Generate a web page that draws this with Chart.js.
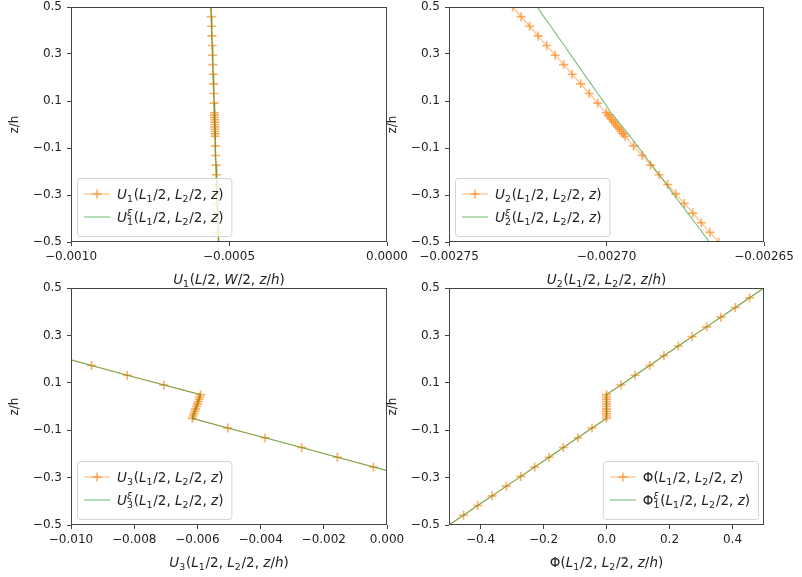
<!DOCTYPE html>
<html lang="en">
<head>
<meta charset="UTF-8">
<title>Through-thickness profiles</title>
<script src="https://cdn.jsdelivr.net/npm/chart.js"></script>
<style>
  body { margin: 0; background: #fff; }
  #fig { position: relative; width: 802px; height: 577px; overflow: hidden; background: #fff; }
  #fig canvas { position: absolute; }
</style>
</head>
<body>
<div id="fig">
  <canvas id="c1"></canvas>
  <canvas id="c2"></canvas>
  <canvas id="c3"></canvas>
  <canvas id="c4"></canvas>
</div>
<script>
// z/h nodes, top to bottom (dense core layer between -0.05 and 0.05)
const zNodes = [0.5, 0.459, 0.418, 0.377, 0.336, 0.295, 0.255, 0.214, 0.173, 0.132, 0.091, 0.05,
  0.04, 0.03, 0.02, 0.01, 0, -0.01, -0.02, -0.03, -0.04, -0.05,
  -0.091, -0.132, -0.173, -0.214, -0.255, -0.295, -0.336, -0.377, -0.418, -0.459, -0.5];

const u1Fem = [-0.000557, -0.000556, -0.000555, -0.000554, -0.000553, -0.000552, -0.000551, -0.000550, -0.000549, -0.000548, -0.000547, -0.000546,
  -0.000546, -0.000546, -0.000545, -0.000545, -0.000545, -0.000545, -0.000545, -0.000544, -0.000544, -0.000544,
  -0.000543, -0.000542, -0.000541, -0.000540, -0.000539, -0.000538, -0.000537, -0.000536, -0.000535, -0.000534, -0.000533];
const u1Exact = [-0.000557, -0.000556, -0.000555, -0.000554, -0.000553, -0.000552, -0.000551, -0.000550, -0.000549, -0.000548, -0.000547, -0.000546,
  -0.000546, -0.000546, -0.000545, -0.000545, -0.000545, -0.000545, -0.000545, -0.000544, -0.000544, -0.000544,
  -0.000543, -0.000542, -0.000541, -0.000540, -0.000539, -0.000538, -0.000537, -0.000536, -0.000535, -0.000534, -0.000533];

const u2Fem = [-0.0027298, -0.0027271, -0.0027244, -0.0027217, -0.0027190, -0.0027163, -0.0027136, -0.0027109, -0.0027082, -0.0027055, -0.0027028, -0.0027001,
  -0.0026995, -0.0026989, -0.0026983, -0.0026977, -0.0026971, -0.0026965, -0.0026959, -0.0026953, -0.0026947, -0.0026941,
  -0.0026914, -0.0026887, -0.0026860, -0.0026833, -0.0026806, -0.0026780, -0.0026753, -0.0026726, -0.0026699, -0.0026672, -0.0026644];
const u2Exact = [-0.0027220, -0.0027199, -0.0027177, -0.0027156, -0.0027134, -0.0027113, -0.0027092, -0.0027071, -0.0027049, -0.0027028, -0.0027006, -0.0026985,
  -0.0026979, -0.0026973, -0.0026967, -0.0026961, -0.0026955, -0.0026949, -0.0026943, -0.0026937, -0.0026931, -0.0026925,
  -0.0026902, -0.0026879, -0.0026856, -0.0026833, -0.0026810, -0.0026788, -0.0026765, -0.0026742, -0.0026719, -0.0026696, -0.0026673];

const u3Fem = [-0.0185, -0.0174, -0.0162, -0.0151, -0.0139, -0.0127, -0.0116, -0.01048, -0.00935, -0.00822, -0.00706, -0.00590,
  -0.00593, -0.00595, -0.00598, -0.00600, -0.00603, -0.00606, -0.00608, -0.00611, -0.00613, -0.00616,
  -0.00504, -0.00386, -0.00270, -0.00157, -0.00043, 0.00067, 0.00180, 0.00292, 0.00405, 0.00517, 0.00630];
const u3Exact = [-0.0185, -0.0174, -0.0162, -0.0151, -0.0139, -0.0127, -0.0116, -0.01048, -0.00935, -0.00822, -0.00706, -0.00590,
  -0.00593, -0.00595, -0.00598, -0.00600, -0.00603, -0.00606, -0.00608, -0.00611, -0.00613, -0.00616,
  -0.00504, -0.00386, -0.00270, -0.00157, -0.00043, 0.00067, 0.00180, 0.00292, 0.00405, 0.00517, 0.00630];

const phiFem = [0.5, 0.454, 0.409, 0.363, 0.318, 0.272, 0.228, 0.182, 0.137, 0.091, 0.046, 0,
  0, 0, 0, 0, 0, 0, 0, 0, 0, 0,
  -0.046, -0.091, -0.137, -0.182, -0.228, -0.272, -0.318, -0.363, -0.409, -0.454, -0.5];
const phiExact = [0.5, 0.454, 0.409, 0.363, 0.318, 0.272, 0.228, 0.182, 0.137, 0.091, 0.046, 0,
  0, 0, 0, 0, 0, 0, 0, 0, 0, 0,
  -0.046, -0.091, -0.137, -0.182, -0.228, -0.272, -0.318, -0.363, -0.409, -0.454, -0.5];

// tick values and labels
const zTicks = [-0.5, -0.3, -0.1, 0.1, 0.3, 0.5];
const zTickLabels = ['\u22120.5', '\u22120.3', '\u22120.1', '0.1', '0.3', '0.5'];
const u1Ticks = [-0.001, -0.0005, 0];
const u1TickLabels = ['\u22120.0010', '\u22120.0005', '0.0000'];
const u2Ticks = [-0.00275, -0.0027, -0.00265];
const u2TickLabels = ['\u22120.00275', '\u22120.00270', '\u22120.00265'];
const u3Ticks = [-0.01, -0.008, -0.006, -0.004, -0.002, 0];
const u3TickLabels = ['\u22120.010', '\u22120.008', '\u22120.006', '\u22120.004', '\u22120.002', '0.000'];
const phiTicks = [-0.4, -0.2, 0, 0.2, 0.4];
const phiTickLabels = ['\u22120.4', '\u22120.2', '0.0', '0.2', '0.4'];

const ORANGE_LINE = 'rgba(255,127,14,0.5)';
const ORANGE_MARK = 'rgba(255,127,14,0.65)';
const GREEN_LINE = 'rgba(44,160,44,0.65)';
const TEXT = '#222';
const FRAME = '#444';
const MATH_SIZE = 13.5;

// --- small mathtext-like renderer: _x subscript, ^x superscript ---
function mathRuns(str) {
  const runs = [];
  for (let i = 0; i < str.length; i++) {
    const c = str[i];
    if ((c === '_' || c === '^') && i + 1 < str.length) {
      const key = c === '_' ? 'sub' : 'sup';
      const ch = str[++i];
      const last = runs[runs.length - 1];
      if (last && last.script && !last[key]) last[key] = ch;
      else runs.push({ script: true, [key]: ch });
    } else {
      runs.push({ ch: c });
    }
  }
  return runs;
}
function fontFor(ch, size) {
  const italic = /[A-Za-z\u03b1-\u03c9]/.test(ch);
  return (italic ? 'italic ' : '') + size + 'px "DejaVu Sans"';
}
function runWidths(ctx, runs, size) {
  const small = size * 0.7;
  return runs.map(r => {
    if (!r.script) { ctx.font = fontFor(r.ch, size); return ctx.measureText(r.ch).width; }
    let w = 0;
    ['sub', 'sup'].forEach(k => {
      if (r[k]) { ctx.font = fontFor(r[k], small); w = Math.max(w, ctx.measureText(r[k]).width); }
    });
    return w + 0.8;
  });
}
function mathWidth(ctx, str, size) {
  return runWidths(ctx, mathRuns(str), size).reduce((a, b) => a + b, 0);
}
function drawMath(ctx, str, x, y, size, align) {
  const runs = mathRuns(str);
  const widths = runWidths(ctx, runs, size);
  const total = widths.reduce((a, b) => a + b, 0);
  const small = size * 0.7;
  let cx = align === 'center' ? x - total / 2 : x;
  ctx.textAlign = 'left';
  ctx.textBaseline = 'alphabetic';
  ctx.fillStyle = TEXT;
  runs.forEach((r, i) => {
    if (!r.script) {
      ctx.font = fontFor(r.ch, size);
      ctx.fillText(r.ch, cx, y);
    } else {
      if (r.sub) { ctx.font = fontFor(r.sub, small); ctx.fillText(r.sub, cx, y + size * 0.24); }
      if (r.sup) { ctx.font = fontFor(r.sup, small); ctx.fillText(r.sup, cx, y - size * 0.42); }
    }
    cx += widths[i];
  });
}

function drawLegend(ctx, area, p) {
  const textW = Math.max(...p.legend.map(t => mathWidth(ctx, t, MATH_SIZE)));
  const w = 40 + textW + 8, h = 58;
  const x0 = p.legendSide === 'right' ? area.right - 6 - w : area.left + 6;
  const y0 = area.bottom - 6 - h;
  ctx.save();
  ctx.beginPath();
  ctx.roundRect(x0 + 0.5, y0 + 0.5, w, h, 3);
  ctx.fillStyle = 'rgba(255,255,255,0.8)';
  ctx.fill();
  ctx.strokeStyle = '#d3d3d3';
  ctx.lineWidth = 1;
  ctx.stroke();
  const rows = [y0 + 16, y0 + 39];
  const hx0 = x0 + 7, hx1 = x0 + 33;
  // orange handle with cross marker
  ctx.strokeStyle = ORANGE_LINE;
  ctx.lineWidth = 1.2;
  ctx.beginPath(); ctx.moveTo(hx0, rows[0]); ctx.lineTo(hx1, rows[0]); ctx.stroke();
  ctx.strokeStyle = ORANGE_MARK;
  ctx.lineWidth = 1.6;
  const mx = (hx0 + hx1) / 2;
  ctx.beginPath();
  ctx.moveTo(mx - 4.5, rows[0]); ctx.lineTo(mx + 4.5, rows[0]);
  ctx.moveTo(mx, rows[0] - 4.5); ctx.lineTo(mx, rows[0] + 4.5);
  ctx.stroke();
  // green handle
  ctx.strokeStyle = GREEN_LINE;
  ctx.lineWidth = 1.1;
  ctx.beginPath(); ctx.moveTo(hx0, rows[1]); ctx.lineTo(hx1, rows[1]); ctx.stroke();
  p.legend.forEach((t, i) => drawMath(ctx, t, x0 + 40, rows[i] + 5, MATH_SIZE, 'left'));
  ctx.restore();
}

const panels = [
  { id: 'c1', left: 0, top: 0, width: 415, height: 287, area: [71, 7, 387, 242], yTitlePad: 8,
    xMin: -0.001, xMax: 0, xTicks: u1Ticks, xLabels: u1TickLabels, fem: u1Fem, exact: u1Exact,
    legend: ['U_1(L_1/2, L_2/2, z)', 'U_1^\u03be(L_1/2, L_2/2, z)'], legendSide: 'left',
    xTitle: 'U_1(L/2, W/2, z/h)' },
  { id: 'c2', left: 380, top: 0, width: 422, height: 287, area: [69, 7, 384, 242], yTitlePad: 6,
    xMin: -0.00275, xMax: -0.00265, xTicks: u2Ticks, xLabels: u2TickLabels, fem: u2Fem, exact: u2Exact,
    legend: ['U_2(L_1/2, L_2/2, z)', 'U_2^\u03be(L_1/2, L_2/2, z)'], legendSide: 'left',
    xTitle: 'U_2(L_1/2, L_2/2, z/h)' },
  { id: 'c3', left: 0, top: 280, width: 415, height: 297, area: [71, 8, 387, 245], yTitlePad: 8,
    xMin: -0.01, xMax: 0, xTicks: u3Ticks, xLabels: u3TickLabels, fem: u3Fem, exact: u3Exact,
    legend: ['U_3(L_1/2, L_2/2, z)', 'U_3^\u03be(L_1/2, L_2/2, z)'], legendSide: 'left',
    xTitle: 'U_3(L_1/2, L_2/2, z/h)' },
  { id: 'c4', left: 380, top: 280, width: 422, height: 297, area: [69, 8, 384, 245], yTitlePad: 6,
    xMin: -0.5, xMax: 0.5, xTicks: phiTicks, xLabels: phiTickLabels, fem: phiFem, exact: phiExact,
    legend: ['\u03a6(L_1/2, L_2/2, z)', '\u03a6_1^\u03be(L_1/2, L_2/2, z)'], legendSide: 'right',
    xTitle: '\u03a6(L_1/2, L_2/2, z/h)' }
];

Chart.defaults.font.family = '"DejaVu Sans"';
Chart.defaults.color = TEXT;

panels.forEach(p => {
  const cv = document.getElementById(p.id);
  cv.width = p.width; cv.height = p.height;
  cv.style.left = p.left + 'px'; cv.style.top = p.top + 'px';
  const [aL, aT, aR, aB] = p.area;

  const framePlugin = {
    id: 'frame' + p.id,
    afterDraw(chart) {
      const ctx = chart.ctx, a = chart.chartArea;
      ctx.save();
      ctx.strokeStyle = FRAME;
      ctx.lineWidth = 1;
      ctx.strokeRect(Math.round(a.left) + 0.5, Math.round(a.top) + 0.5,
        Math.round(a.right - a.left) - 1, Math.round(a.bottom - a.top) - 1);
      ctx.restore();
      drawLegend(ctx, a, p);
      drawMath(ctx, p.xTitle, (a.left + a.right) / 2, a.bottom + 42, MATH_SIZE, 'center');
    }
  };

  new Chart(cv, {
    type: 'scatter',
    data: {
      datasets: [
        { data: zNodes.map((z, i) => ({ x: p.fem[i], y: z })), showLine: true,
          borderColor: ORANGE_LINE, borderWidth: 1.2, pointStyle: 'cross', pointRadius: 4.5,
          pointBorderColor: ORANGE_MARK, pointBorderWidth: 1.6, pointBackgroundColor: 'transparent', order: 2 },
        { data: zNodes.map((z, i) => ({ x: p.exact[i], y: z })), showLine: true,
          borderColor: GREEN_LINE, borderWidth: 1.1, pointRadius: 0, order: 1 }
      ]
    },
    options: {
      responsive: false,
      animation: false,
      events: [],
      layout: { padding: { left: 0, top: aT, right: p.width - aR, bottom: 0 } },
      plugins: { legend: { display: false }, tooltip: { enabled: false } },
      scales: {
        x: {
          type: 'linear', min: p.xMin, max: p.xMax,
          afterBuildTicks: s => { s.ticks = p.xTicks.map(v => ({ value: v })); },
          afterFit: s => { s.height = p.height - aB; s.paddingLeft = 0; s.paddingRight = 0; },
          ticks: { callback: (v, i) => p.xLabels[i], autoSkip: false, maxRotation: 0, padding: 4,
                   font: { size: 12 }, color: TEXT },
          grid: { drawOnChartArea: false, drawTicks: true, tickLength: 4, color: FRAME },
          border: { display: false }
        },
        y: {
          type: 'linear', min: -0.5, max: 0.5,
          afterBuildTicks: s => { s.ticks = zTicks.map(v => ({ value: v })); },
          afterFit: s => { s.width = aL; s.paddingTop = 0; s.paddingBottom = 0; },
          ticks: { callback: (v, i) => zTickLabels[i], autoSkip: false, padding: 5,
                   font: { size: 12 }, color: TEXT },
          grid: { drawOnChartArea: false, drawTicks: true, tickLength: 4, color: FRAME },
          border: { display: false },
          title: { display: true, text: 'z/h', font: { size: 12 }, color: TEXT,
                   padding: { top: p.yTitlePad, bottom: 0 } }
        }
      }
    },
    plugins: [framePlugin]
  });
});
</script>
</body>
</html>
